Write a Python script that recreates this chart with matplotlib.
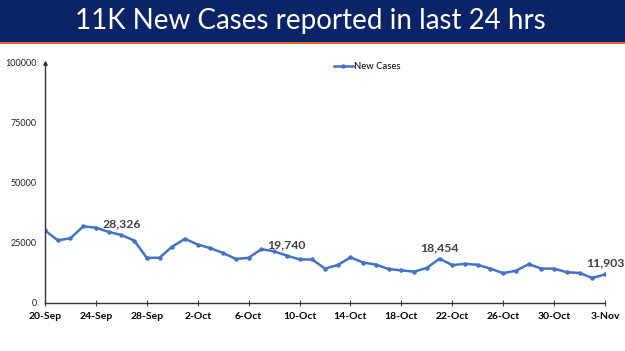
import numpy as np
import pandas as pd
import matplotlib
matplotlib.use("Agg")
import matplotlib.pyplot as plt

# daily new cases, 20-Sep .. 3-Nov
dates = pd.date_range("2021-09-20", "2021-11-03", freq="D")
new_cases = [30256, 26115, 26964, 31923, 31382, 29616, 28326, 26041, 18795, 18870,
             23529, 26727, 24354, 22842, 20799, 18346, 18833, 22431, 21527, 19740,
             18166, 18132, 14313, 15823, 18987, 16862, 15981, 14146, 13596, 13058,
             14623, 18454, 15786, 16326, 15906, 14306, 12428, 13451, 16156, 14348,
             14313, 12830, 12514, 10423, 11903]
tick_labels = ["20-Sep", "24-Sep", "28-Sep", "2-Oct", "6-Oct", "10-Oct",
               "14-Oct", "18-Oct", "22-Oct", "26-Oct", "30-Oct", "3-Nov"]
callouts = ["2021-09-26", "2021-10-09", "2021-10-21", "2021-11-03"]
title = "11K New Cases reported in last 24 hrs"

plt.rcParams["font.family"] = ["Lato", "DejaVu Sans"]

x = np.arange(len(dates))
fig = plt.figure(figsize=(6.25, 3.51), dpi=100)

# title banner
fig.patches.append(plt.Rectangle((0, 1 - 42 / 351), 1, 42 / 351, transform=fig.transFigure,
                                 facecolor="#0B2468", edgecolor="none", zorder=0))
fig.patches.append(plt.Rectangle((0, 1 - 44 / 351), 1, 2 / 351, transform=fig.transFigure,
                                 facecolor="#D8683A", edgecolor="none", zorder=0))
fig.text(0.497, 1 - 21 / 351, title, color="white", fontsize=20, ha="center", va="center")

ax = fig.add_axes([45 / 625, 1 - 303 / 351, 560 / 625, 240 / 351])
ax.plot(x, new_cases, color="#4472C4", lw=1.8, marker="o", ms=2.2, label="New Cases")
ax.set_xlim(0, len(x) - 1)
ax.set_ylim(0, 100000)
ax.set_yticks([0, 25000, 50000, 75000, 100000])
ax.tick_params(axis="y", length=0, labelsize=6.5, pad=6, labelcolor="#222222")
ax.set_xticks(x[::4])
ax.set_xticklabels(tick_labels, fontweight="bold", fontsize=7.5)
ax.tick_params(axis="x", direction="inout", length=5, width=0.8, pad=4, color="#444444")
ax.spines[["top", "right"]].set_visible(False)
for s in ["left", "bottom"]:
    ax.spines[s].set_color("#333333")
    ax.spines[s].set_linewidth(1.0)
ax.plot(0, 1, marker="^", ms=2.5, color="#333333", transform=ax.transAxes, clip_on=False)

for d in callouts:
    i = dates.get_loc(pd.Timestamp(d))
    ax.annotate(f"{new_cases[i]:,}", (x[i], new_cases[i]), xytext=(0, 8),
                textcoords="offset points", ha="center", va="center",
                fontsize=8.8, fontweight="bold", color="#404040", annotation_clip=False)

ax.legend(loc="upper center", bbox_to_anchor=(0.575, 1.04), frameon=False, fontsize=6.8,
          handlelength=2.0, handletextpad=0.1)

fig.savefig("out.png", dpi=100, facecolor="white")
